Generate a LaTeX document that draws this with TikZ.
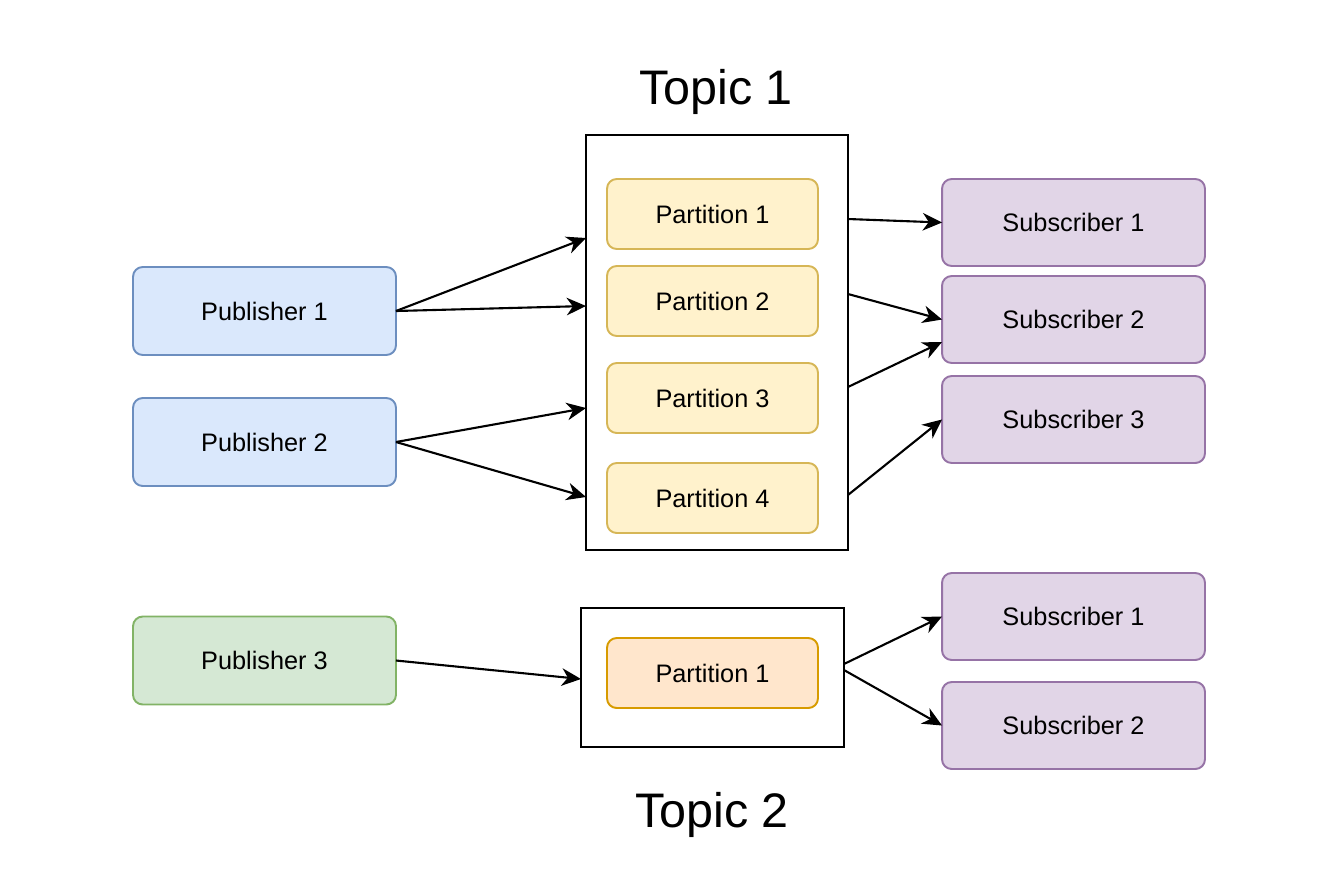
\documentclass[tikz,border=0pt]{standalone}
\usepackage{fontspec}
\setmainfont{Liberation Sans}
\usetikzlibrary{arrows.meta,positioning}
\definecolor{pubfill}{HTML}{DAE8FC}
\definecolor{publine}{HTML}{6C8EBF}
\definecolor{greenfill}{HTML}{D5E8D4}
\definecolor{greenline}{HTML}{82B366}
\definecolor{partfill}{HTML}{FFF2CC}
\definecolor{partline}{HTML}{D6B656}
\definecolor{orangefill}{HTML}{FFE6CC}
\definecolor{orangeline}{HTML}{D79B00}
\definecolor{subfill}{HTML}{E1D5E7}
\definecolor{subline}{HTML}{9673A6}
\tikzset{
  every picture/.style={line width=1.1pt},
  roundbox/.style={draw, rounded corners=5.5pt, outer sep=0pt, font=\fontsize{14.4}{16}\selectfont},
  pubbox/.style={roundbox, fill=pubfill, draw=publine, minimum width=5.26cm, minimum height=1.76cm},
  subbox/.style={roundbox, fill=subfill, draw=subline, minimum width=5.26cm, minimum height=1.74cm},
  partbox/.style={roundbox, fill=partfill, draw=partline, minimum width=4.22cm, minimum height=1.4cm},
  topicbox/.style={draw=black, outer sep=0pt, minimum width=5.24cm},
  topiclabel/.style={font=\fontsize{27.6}{31}\selectfont},
  link/.style={-{Stealth[length=11pt,width=10pt,inset=3.5pt]}, line width=1.2pt}
}
\begin{document}
\begin{tikzpicture}[x=0.02cm, y=-0.02cm]
    \useasboundingbox (0,0) rectangle (1335,887);

    % topic boxes
    \node[topicbox, minimum height=8.3cm] (t1) at (717,342.5) {};
    \node[topicbox, minimum width=5.26cm, minimum height=2.78cm] (t2) at (712.5,677.5) {};
    \node[topiclabel] (t1label) at (716,92) {Topic 1};
    \node[topiclabel] (t2label) at (712,815) {Topic 2};

    % publishers
    \node[pubbox] (pub1) at (264.5,311) {Publisher 1};
    \node[pubbox] (pub2) at (264.5,442) {Publisher 2};
    \node[pubbox, fill=greenfill, draw=greenline] (pub3) at (264.5,660.5) {Publisher 3};

    % partitions
    \node[partbox] (part1) at (712.5,214) {Partition 1};
    \node[partbox] (part2) at (712.5,301) {Partition 2};
    \node[partbox] (part3) at (712.5,398) {Partition 3};
    \node[partbox] (part4) at (712.5,498) {Partition 4};
    \node[partbox, fill=orangefill, draw=orangeline] (part5) at (712.5,673) {Partition 1};

    % subscribers
    \node[subbox] (sub1) at (1073.5,222.5) {Subscriber 1};
    \node[subbox] (sub2) at (1073.5,319.5) {Subscriber 2};
    \node[subbox] (sub3) at (1073.5,419.5) {Subscriber 3};
    \node[subbox] (sub4) at (1073.5,616.5) {Subscriber 1};
    \node[subbox] (sub5) at (1073.5,725.5) {Subscriber 2};

    % arrow ends on the topic boxes
    \coordinate (in1) at (t1.west |- 0,238);
    \coordinate (in2) at (t1.west |- 0,306);
    \coordinate (in3) at (t1.west |- 0,408);
    \coordinate (in4) at (t1.west |- 0,497);
    \coordinate (in5) at (t2.west |- 0,679);
    \coordinate (out1) at (t1.east |- 0,219);
    \coordinate (out2) at (t1.east |- 0,294);
    \coordinate (out3) at (t1.east |- 0,387);
    \coordinate (out4) at (t1.east |- 0,495);
    \coordinate (out5) at (t2.east |- 0,664);
    \coordinate (out6) at (t2.east |- 0,670);

    % publishing
    \draw[link] (pub1.east) -- (in1);
    \draw[link] (pub1.east) -- (in2);
    \draw[link] (pub2.east) -- (in3);
    \draw[link] (pub2.east) -- (in4);
    \draw[link] (pub3.east) -- (in5);

    % subscribing
    \draw[link] (out1) -- (sub1.west);
    \draw[link] (out2) -- (sub2.west);
    \draw[link] (out3) -- (sub2.west |- 0,342);
    \draw[link] (out4) -- (sub3.west);
    \draw[link] (out5) -- (sub4.west);
    \draw[link] (out6) -- (sub5.west);
\end{tikzpicture}
\end{document}
